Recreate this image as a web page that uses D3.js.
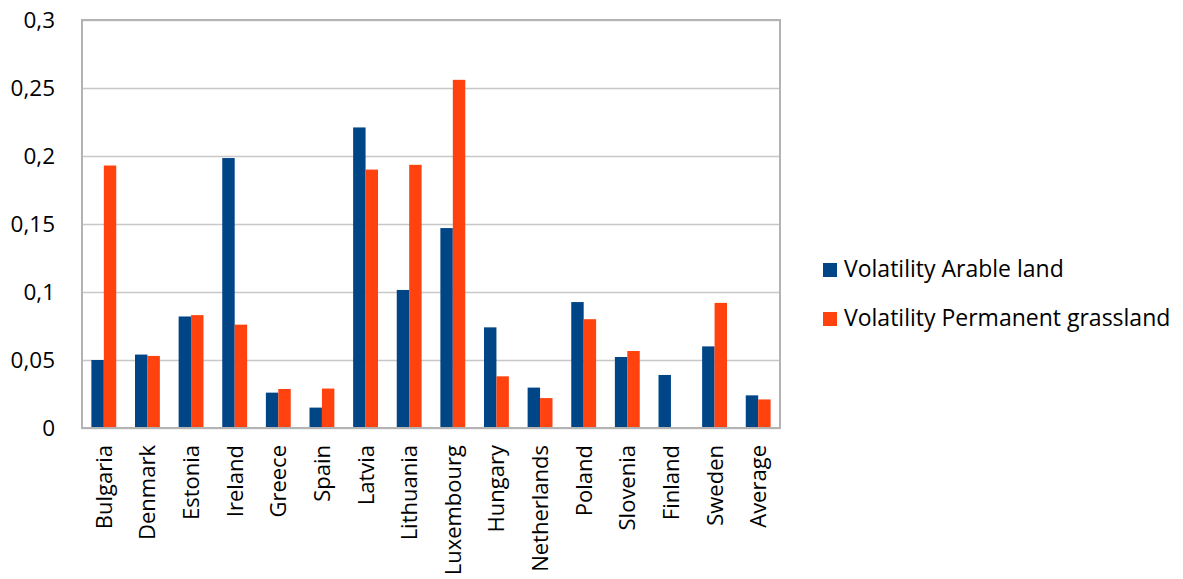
<!DOCTYPE html>
<html>
<head>
<meta charset="utf-8">
<script src="https://cdnjs.cloudflare.com/ajax/libs/d3/7.8.5/d3.min.js"></script>
<style>
  html, body { margin: 0; padding: 0; background: #fff; }
  svg { display: block; }
  text { font-family: "Open Sans", "Noto Sans", sans-serif; fill: #000; }
</style>
</head>
<body>
<svg id="chart" width="1183" height="579"></svg>
<script>
const countries = ["Bulgaria", "Denmark", "Estonia", "Ireland", "Greece", "Spain", "Latvia",
  "Lithuania", "Luxembourg", "Hungary", "Netherlands", "Poland", "Slovenia", "Finland",
  "Sweden", "Average"];
const arableLand = [0.050, 0.054, 0.082, 0.1985, 0.026, 0.015, 0.221, 0.1015, 0.147, 0.074,
  0.0297, 0.0926, 0.0522, 0.039, 0.060, 0.024];
const permanentGrassland = [0.193, 0.053, 0.083, 0.076, 0.0287, 0.029, 0.190, 0.1935, 0.256,
  0.038, 0.022, 0.080, 0.0566, 0, 0.092, 0.021];
const seriesNames = ["Volatility Arable land", "Volatility Permanent grassland"];
const seriesColors = ["#004586", "#ff420e"];
const yTicks = [0, 0.05, 0.1, 0.15, 0.2, 0.25, 0.3];

const svg = d3.select("#chart");
const plot = { left: 82, right: 780, top: 20, bottom: 428 };

const x = d3.scaleBand().domain(countries).range([plot.left, plot.right]).paddingInner(0).paddingOuter(0);
const y = d3.scaleLinear().domain([0, 0.3]).range([plot.bottom, plot.top]);
const barW = x.bandwidth() * 0.285;

const fmt = d => String(d).replace(".", ",");

// horizontal gridlines
svg.append("g").selectAll("line").data(yTicks).join("line")
  .attr("x1", plot.left).attr("x2", plot.right)
  .attr("y1", d => Math.round(y(d)) + 0.5).attr("y2", d => Math.round(y(d)) + 0.5)
  .attr("stroke", "#c8c8c8").attr("stroke-width", 1.5);

// y axis labels
const yAxis = d3.axisLeft(y).tickValues(yTicks).tickFormat(fmt).tickSize(0).tickPadding(27);
const gy = svg.append("g").attr("transform", `translate(${plot.left},0)`).call(yAxis);
gy.select(".domain").remove();
gy.selectAll("text").attr("font-size", 22.5).attr("font-family", "Open Sans, sans-serif").attr("fill", "#000");

// bars
const series = [arableLand, permanentGrassland];
series.forEach((vals, s) => {
  svg.append("g").selectAll("rect").data(countries).join("rect")
    .attr("x", (c) => x(c) + x.bandwidth() / 2 - barW + s * barW)
    .attr("y", (c, i) => y(vals[i]))
    .attr("width", barW)
    .attr("height", (c, i) => y(0) - y(vals[i]))
    .attr("fill", seriesColors[s]);
});

// plot frame
svg.append("rect")
  .attr("x", plot.left).attr("y", plot.top)
  .attr("width", plot.right - plot.left).attr("height", plot.bottom - plot.top)
  .attr("fill", "none").attr("stroke", "#b3b3b3").attr("stroke-width", 2);

// x axis labels (rotated)
const xAxis = d3.axisBottom(x).tickSize(0).tickPadding(0);
const gx = svg.append("g").attr("transform", `translate(0,${plot.bottom})`).call(xAxis);
gx.select(".domain").remove();
gx.selectAll("text")
  .attr("font-size", 22).attr("font-family", "Open Sans, sans-serif").attr("fill", "#000")
  .attr("text-anchor", "end")
  .attr("dy", null)
  .attr("y", 0)
  .attr("transform", "translate(0,17) rotate(-90) translate(0,8)");

// legend
const legend = svg.append("g");
seriesNames.forEach((name, i) => {
  const ly = 270 + i * 49;
  legend.append("rect").attr("x", 823).attr("y", ly - 7).attr("width", 14).attr("height", 14)
    .attr("fill", seriesColors[i]);
  legend.append("text").attr("x", 844).attr("y", ly - 1).attr("dy", "0.35em")
    .attr("font-size", 23).text(name);
});
</script>
</body>
</html>
